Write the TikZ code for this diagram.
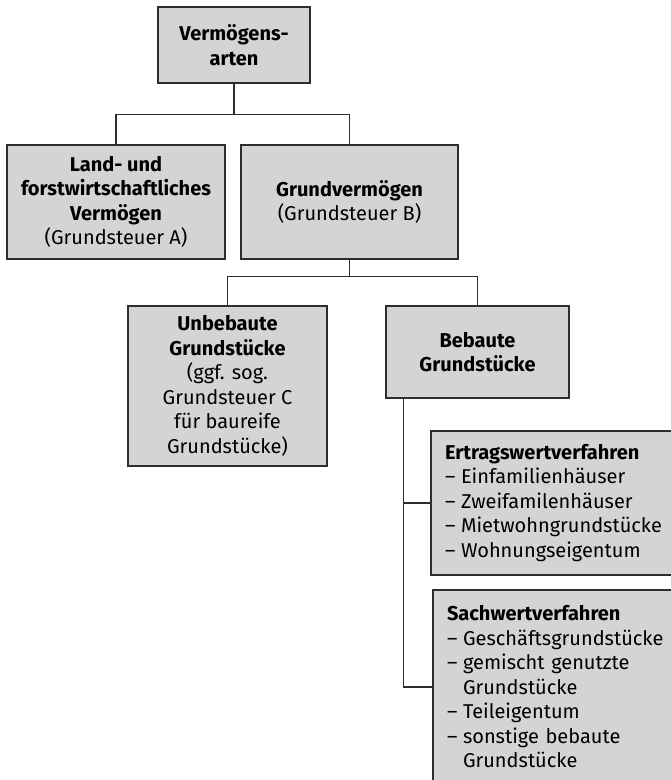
\documentclass[tikz,border=0pt]{standalone}
\usepackage{fontspec}
\setmainfont{Fira Sans}
\usetikzlibrary{positioning}
\definecolor{boxgray}{RGB}{211,212,214}
\definecolor{linegray}{RGB}{45,45,45}
\newcommand{\listdash}{\makebox[16pt][l]{–}}
\tikzset{
  every node/.style={font=\fontsize{20}{24.5}\selectfont},
  box/.style={draw=linegray, line width=1.4pt, fill=boxgray, align=center, inner sep=0pt},
  listbox/.style={box, align=left, inner xsep=14pt, text width=232pt, minimum width=260pt},
  branch/.style={draw=linegray, line width=1.4pt},
}

\begin{document}
\begin{tikzpicture}[x=1pt, y=-1pt]
  \useasboundingbox (0,0) rectangle (671,780);
  \clip (0,0) rectangle (671,780);

  % boxes
  \node[box, minimum width=152pt, minimum height=76pt] (arten) at (234,45)
    {\textbf{Vermögens-}\\\textbf{arten}};
  \node[box, minimum width=218pt, minimum height=114pt] (land) at (116,202)
    {\textbf{Land- und}\\\textbf{forstwirtschaftliches}\\\textbf{Vermögen}\\(Grundsteuer A)};
  \node[box, minimum width=217pt, minimum height=114pt] (grund) at (349.5,202)
    {\textbf{Grundvermögen}\\(Grundsteuer B)};
  \node[box, minimum width=199pt, minimum height=160pt] (unbebaut) at (227.5,386)
    {\textbf{Unbebaute}\\\textbf{Grundstücke}\\(ggf. sog.\\Grundsteuer C\\für baureife\\Grundstücke)};
  \node[box, minimum width=183pt, minimum height=92pt] (bebaut) at (477.5,352)
    {\textbf{Bebaute}\\\textbf{Grundstücke}};
  \node[listbox, minimum height=144pt] (ertrag) at (561,503)
    {\textbf{Ertragswertverfahren}\\
     \listdash Einfamilienhäuser\\
     \listdash Zweifamilenhäuser\\
     \listdash Mietwohngrundstücke\\
     \listdash Wohnungseigentum};
  \node[listbox, minimum height=194pt] (sach) at (563,687)
    {\textbf{Sachwertverfahren}\\
     \listdash Geschäftsgrundstücke\\
     \listdash gemischt genutzte\\
     \hspace*{16pt}Grundstücke\\
     \listdash Teileigentum\\
     \listdash sonstige bebaute\\
     \hspace*{16pt}Grundstücke};

  % lines
  \draw[branch] (arten.south) -- ++(0,31) coordinate (j1) -| (land.north)
    (j1) -| (grund.north);
  \draw[branch] (grund.south) -- ++(0,17) coordinate (j2) -| (unbebaut.north)
    (j2) -| (bebaut.north);
  \draw[branch] ([xshift=18pt]bebaut.south west) coordinate (j3) |- (ertrag.west)
    (j3) |- (sach.west);
\end{tikzpicture}
\end{document}
